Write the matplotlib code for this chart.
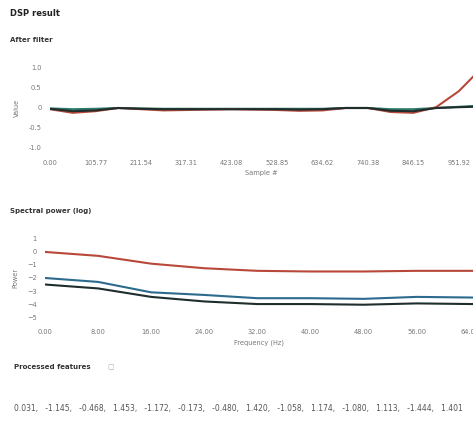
import matplotlib.pyplot as plt

W, H = 473, 424

# After filter (time domain)
sample_x = [0, 52.9, 105.8, 158.7, 211.5, 264.4, 317.3, 370.2, 423.1, 476.0,
            528.9, 581.7, 634.6, 687.5, 740.4, 793.3, 846.2, 899.0, 951.9, 985.0]
filt_red = [-0.03, -0.12, -0.08, 0.0, -0.03, -0.06, -0.05, -0.04, -0.03, -0.04,
            -0.05, -0.07, -0.06, 0.0, 0.0, -0.10, -0.12, 0.02, 0.42, 0.78]
filt_dark = [-0.02, -0.08, -0.06, 0.0, -0.02, -0.03, -0.03, -0.03, -0.03, -0.03,
             -0.03, -0.04, -0.03, 0.0, 0.0, -0.07, -0.08, 0.0, 0.02, 0.03]
filt_green = [-0.01, -0.03, -0.02, 0.0, -0.01, -0.02, -0.02, -0.02, -0.02, -0.02,
              -0.02, -0.02, -0.02, 0.0, 0.0, -0.03, -0.03, 0.0, 0.03, 0.05]
sample_ticks = [0.00, 105.77, 211.54, 317.31, 423.08, 528.85, 634.62, 740.38, 846.15, 951.92]

# Spectral power (log)
freq_x = [0, 8, 16, 24, 32, 40, 48, 56, 64.5]
pow_red = [0.0, -0.3, -0.9, -1.25, -1.45, -1.5, -1.5, -1.45, -1.45]
pow_blue = [-2.0, -2.3, -3.1, -3.3, -3.55, -3.55, -3.6, -3.45, -3.5]
pow_dark = [-2.5, -2.8, -3.45, -3.8, -4.0, -4.0, -4.05, -3.95, -4.0]
freq_ticks = [0, 8, 16, 24, 32, 40, 48, 56, 64]

features = [0.031, -1.145, -0.468, 1.453, -1.172, -0.173, -0.480, 1.420,
            -1.058, 1.174, -1.080, 1.113, -1.444, 1.401]

RED = "#b8483a"
DARK = "#1f2d2d"
GREEN = "#2f7a6a"
BLUE = "#2c6a8e"


def box(l, t, r, b):
    return [l / W, 1 - b / H, (r - l) / W, (b - t) / H]


def style(ax):
    for s in ax.spines.values():
        s.set_visible(False)
    ax.tick_params(length=0, labelsize=4.8, labelcolor="#777777", pad=6)


fig = plt.figure(figsize=(W / 100, H / 100), dpi=100)

fig.text(10 / W, 1 - 13 / H, "DSP result", fontsize=6, fontweight="bold",
         color="#222222", va="center")
fig.text(10 / W, 1 - 40 / H, "After filter", fontsize=5, fontweight="bold",
         color="#333333", va="center")
fig.text(10 / W, 1 - 211 / H, "Spectral power (log)", fontsize=5,
         fontweight="bold", color="#333333", va="center")
fig.text(14 / W, 1 - 367 / H, "Processed features", fontsize=5,
         fontweight="bold", color="#333333", va="center")
fig.text(107 / W, 1 - 367 / H, "\u25a2", fontsize=5, color="#aaaaaa", va="center")

# top chart
ax1 = fig.add_axes(box(50, 64, 473, 152))
ax1.plot(sample_x, filt_green, color=GREEN, lw=1.5)
ax1.plot(sample_x, filt_red, color=RED, lw=1.5)
ax1.plot(sample_x, filt_dark, color=DARK, lw=1.5)
ax1.set_xlim(0, 985)
ax1.set_ylim(-1.1, 1.1)
ax1.set_yticks([1.0, 0.5, 0, -0.5, -1.0])
ax1.set_yticklabels(["1.0", "0.5", "0", "-0.5", "-1.0"])
ax1.set_xticks(sample_ticks)
ax1.set_xticklabels([f"{v:.2f}" for v in sample_ticks])
ax1.set_xlabel("Sample #", fontsize=4.8, color="#777777", labelpad=3)
ax1.set_ylabel("Value", fontsize=4.8, color="#777777", labelpad=6)
style(ax1)

# bottom chart
ax2 = fig.add_axes(box(45, 235, 473, 321))
ax2.plot(freq_x, pow_red, color=RED, lw=1.5)
ax2.plot(freq_x, pow_blue, color=BLUE, lw=1.5)
ax2.plot(freq_x, pow_dark, color=DARK, lw=1.5)
ax2.set_xlim(0, 64.5)
ax2.set_ylim(-5.3, 1.3)
ax2.set_yticks([1, 0, -1, -2, -3, -4, -5])
ax2.set_xticks(freq_ticks)
ax2.set_xticklabels([f"{v:.2f}" for v in freq_ticks])
ax2.set_xlabel("Frequency (Hz)", fontsize=4.8, color="#777777", labelpad=3)
ax2.set_ylabel("Power", fontsize=4.8, color="#777777", labelpad=6)
style(ax2)

fig.text(14 / W, 1 - 408 / H, ",   ".join(f"{v:.3f}" for v in features),
         fontsize=5.5, color="#555555", va="center")

fig.savefig("out.png", dpi=100)
